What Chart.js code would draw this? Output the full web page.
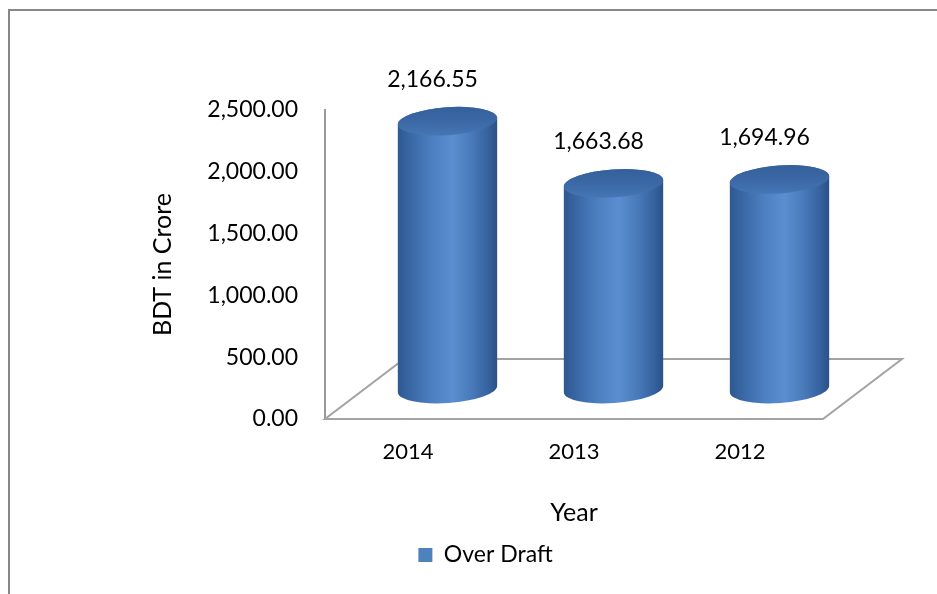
<!DOCTYPE html>
<html>
<head>
<meta charset="utf-8">
<script src="https://cdn.jsdelivr.net/npm/chart.js@4.4.1/dist/chart.umd.min.js"></script>
<style>
  html, body { margin: 0; padding: 0; background: #ffffff; }
  #wrap { width: 937px; height: 594px; position: relative; overflow: hidden; }
  canvas { display: block; }
</style>
</head>
<body>
<div id="wrap"><canvas id="chart" width="937" height="594"></canvas></div>
<script>
// Over draft balances by year (BDT crore)
const years = ['2014', '2013', '2012'];
const overDraft = [2166.55, 1663.68, 1694.96];
const yTickValues = [0, 500, 1000, 1500, 2000, 2500];
const seriesName = 'Over Draft';
const yAxisTitle = 'BDT in Crore';
const xAxisTitle = 'Year';

const FONT = 'Lato';
const fmt = v => v.toLocaleString('en-US', { minimumFractionDigits: 2, maximumFractionDigits: 2 });

// 3D look: floor depth offset and cylinder tilt
const DEPTH_X = 79, DEPTH_Y = -60;
const TILT = -0.07;
const ELLIPSE_RY = 14;

function drawCylinder(ctx, cx, yTop, yBot, rx, ry, rot) {
  const c = Math.cos(rot), s = Math.sin(rot);
  // side surface
  const side = ctx.createLinearGradient(cx - rx, 0, cx + rx, 0);
  side.addColorStop(0.00, '#2d5890');
  side.addColorStop(0.12, '#3966a3');
  side.addColorStop(0.35, '#4d80c2');
  side.addColorStop(0.55, '#5a8ed0');
  side.addColorStop(0.72, '#4b7dbd');
  side.addColorStop(0.90, '#3763a0');
  side.addColorStop(1.00, '#2b5186');
  ctx.beginPath();
  ctx.moveTo(cx - rx * c, yTop - rx * s);
  ctx.lineTo(cx - rx * c, yBot - rx * s);
  ctx.ellipse(cx, yBot, rx, ry, rot, Math.PI, 0, true);
  ctx.lineTo(cx + rx * c, yTop + rx * s);
  ctx.ellipse(cx, yTop, rx, ry, rot, 0, Math.PI, true);
  ctx.closePath();
  ctx.fillStyle = side;
  ctx.fill();
  // top face
  const top = ctx.createLinearGradient(0, yTop - ry, 0, yTop + ry);
  top.addColorStop(0, '#34609b');
  top.addColorStop(0.6, '#3d6aa8');
  top.addColorStop(1, '#4676b5');
  ctx.beginPath();
  ctx.ellipse(cx, yTop, rx, ry, rot, 0, Math.PI * 2);
  ctx.fillStyle = top;
  ctx.fill();
}

const frame = {
  id: 'frame',
  beforeDraw(chart) {
    const ctx = chart.ctx;
    ctx.save();
    ctx.fillStyle = '#ffffff';
    ctx.fillRect(0, 0, chart.width, chart.height);
    ctx.strokeStyle = '#878787';
    ctx.lineWidth = 2;
    ctx.beginPath();
    ctx.moveTo(9, chart.height + 5);
    ctx.lineTo(9, 10);
    ctx.lineTo(chart.width + 5, 10);
    ctx.stroke();
    ctx.restore();
  }
};

const cylinders = {
  id: 'cylinders',
  beforeDatasetsDraw(chart) {
    const ctx = chart.ctx;
    const area = chart.chartArea;
    const yScale = chart.scales.y;
    const y0 = yScale.getPixelForValue(0);
    ctx.save();
    // floor
    ctx.strokeStyle = '#a3a3a3';
    ctx.lineWidth = 2;
    ctx.beginPath();
    ctx.moveTo(area.left, y0);
    ctx.lineTo(area.right, y0);
    ctx.lineTo(area.right + DEPTH_X, y0 + DEPTH_Y);
    ctx.lineTo(area.left + DEPTH_X, y0 + DEPTH_Y);
    ctx.closePath();
    ctx.stroke();

    const meta = chart.getDatasetMeta(0);
    const values = chart.data.datasets[0].data;
    meta.data.forEach((bar, i) => {
      const rx = bar.width / 2;
      const cx = bar.x + DEPTH_X / 2;
      const yBot = y0 + DEPTH_Y / 2;
      const yTop = yScale.getPixelForValue(values[i]) + DEPTH_Y / 2;
      drawCylinder(ctx, cx, yTop, yBot, rx, ELLIPSE_RY, TILT);
      ctx.fillStyle = '#000000';
      ctx.font = `23px ${FONT}`;
      ctx.textAlign = 'center';
      ctx.textBaseline = 'middle';
      ctx.fillText(fmt(values[i]), cx - 15, yTop - 42);
    });
    ctx.restore();
    return false;
  }
};

new Chart(document.getElementById('chart'), {
  type: 'bar',
  data: {
    labels: years,
    datasets: [{
      label: seriesName,
      data: overDraft,
      backgroundColor: '#4f81bd',
      borderWidth: 0,
      categoryPercentage: 1,
      barPercentage: 0.6
    }]
  },
  options: {
    responsive: false,
    animation: false,
    devicePixelRatio: 1,
    layout: { padding: { left: 148, right: 114, top: 110, bottom: 17.5 } },
    plugins: {
      tooltip: { enabled: false },
      legend: {
        position: 'bottom',
        labels: {
          boxWidth: 14,
          boxHeight: 14,
          padding: 10,
          color: '#000000',
          font: { family: FONT, size: 23 }
        }
      }
    },
    scales: {
      x: {
        grid: { display: false, drawTicks: false },
        border: { display: false },
        ticks: { color: '#000000', padding: 20, font: { family: FONT, size: 22 } },
        title: {
          display: true,
          text: xAxisTitle,
          color: '#000000',
          padding: { top: 0, bottom: 5.5 },
          font: { family: FONT, size: 25 }
        },
        afterFit(s) { s.height = 114.5; }
      },
      y: {
        min: 0,
        max: 2500,
        grid: { display: false, drawTicks: false },
        border: { display: true, color: '#999999', width: 2 },
        afterBuildTicks(s) { s.ticks = yTickValues.map(v => ({ value: v })); },
        ticks: {
          color: '#000000',
          padding: 27,
          font: { family: FONT, size: 23 },
          callback: v => fmt(v)
        },
        title: {
          display: true,
          text: yAxisTitle,
          color: '#000000',
          padding: { top: 0, bottom: 0 },
          font: { family: FONT, size: 25 }
        },
        afterFit(s) { s.width = 177; }
      }
    }
  },
  plugins: [frame, cylinders]
});
</script>
</body>
</html>
